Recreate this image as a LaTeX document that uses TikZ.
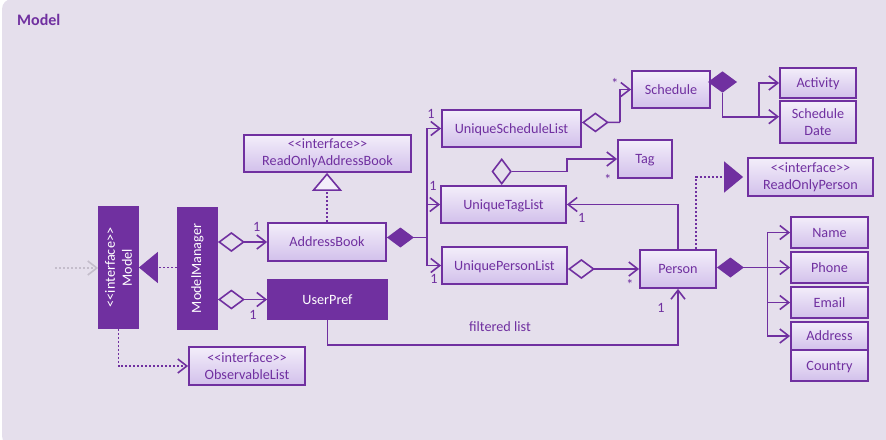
\documentclass[tikz,border=0pt]{standalone}
\usepackage{fontspec}
\setmainfont{Carlito}
\usetikzlibrary{arrows.meta,shapes.geometric}
\definecolor{pc}{HTML}{7030A0}
\definecolor{bgc}{HTML}{E5DFEC}
\definecolor{btop}{HTML}{F3EEFA}
\definecolor{bbot}{HTML}{D2C0EB}
\definecolor{gdot}{HTML}{C4BDCB}
\begin{document}
\begin{tikzpicture}[x=1pt,y=-1pt,
 font=\fontsize{14.2}{17}\selectfont,
 umlbox/.style={draw=pc, line width=1.8pt, top color=btop, bottom color=bbot, text=pc, inner sep=0pt, align=center},
 sline/.style={text height=9pt, text depth=0pt},
 darkbox/.style={draw=pc, fill=pc, line width=1.8pt, inner sep=0pt},
 whitetxt/.style={text=white, inner sep=0pt, align=center},
 lbl/.style={text=pc, inner sep=0pt},
 conn/.style={draw=pc, line width=1.6pt},
 dotline/.style={dash pattern=on 2pt off 2pt},
 arr/.style={conn, -{Straight Barb[length=9pt,width=14pt]}},
 aggarr/.style={conn, {Diamond[length=27pt,width=20pt,fill=bgc]}-{Straight Barb[length=9pt,width=14pt]}},
 aggline/.style={conn, {Diamond[length=27pt,width=20pt,fill=bgc]}-},
 compline/.style={conn, {Diamond[length=27pt,width=20pt,fill=pc]}-},
 realfill/.style={conn, dotline, -{Triangle[length=19pt,width=31pt,fill=pc]}},
 realopen/.style={conn, dotline, -{Triangle[length=18pt,width=30pt,fill=btop]}},
 deparr/.style={conn, dotline, -{Straight Barb[length=9pt,width=14pt]}},
 grayarr/.style={draw=gdot, line width=1.6pt, dotline, -{Straight Barb[length=9pt,width=14pt]}},
]
\useasboundingbox (0,0) rectangle (886,439);
\fill[bgc, rounded corners=10pt] (2,-1) rectangle (892,446);
\node[text=pc, font=\bfseries\fontsize{16}{19}\selectfont, anchor=base west, inner sep=0pt] (title) at (17,25) {Model};

% boxes
\node[umlbox, minimum width=167pt, minimum height=37pt] (roab) at (327.5,153.5) {<\kern0pt<interface>\kern0pt>\\ReadOnlyAddressBook};
\node[umlbox, sline, minimum width=118pt, minimum height=38pt] (ab) at (327,242) {AddressBook};
\node[darkbox, minimum width=39pt, minimum height=121pt] (model) at (118.5,267.5) {};
\node[whitetxt, rotate=90] (modeltxt) at (model.center) {<\kern0pt<interface>\kern0pt>\\Model};
\node[darkbox, minimum width=39pt, minimum height=121pt] (mm) at (197.5,268.5) {};
\node[whitetxt, rotate=90] (mmtxt) at (mm.center) {ModelManager};
\node[darkbox, minimum width=119pt, minimum height=39pt] (up) at (327.5,299.5) {};
\node[whitetxt, sline] (uptxt) at (up.center) {UserPref};
\node[umlbox, minimum width=116pt, minimum height=38pt] (ol) at (247,366) {<\kern0pt<interface>\kern0pt>\\ObservableList};
\node[umlbox, sline, minimum width=139pt, minimum height=37pt] (usl) at (511.5,128.5) {UniqueScheduleList};
\node[umlbox, sline, minimum width=78pt, minimum height=37pt] (sched) at (671,89.5) {Schedule};
\node[umlbox, sline, minimum width=76pt, minimum height=30pt] (act) at (818,83) {Activity};
\node[umlbox, minimum width=76pt, minimum height=42pt] (sd) at (818,122) {Schedule\\Date};
\node[umlbox, sline, minimum width=54pt, minimum height=38pt] (tag) at (645,159) {Tag};
\node[umlbox, sline, minimum width=125pt, minimum height=37pt] (utl) at (503.5,204.5) {UniqueTagList};
\node[umlbox, sline, minimum width=125pt, minimum height=37pt] (upl) at (504.5,265.5) {UniquePersonList};
\node[umlbox, sline, minimum width=76pt, minimum height=38pt] (person) at (678,269) {Person};
\node[umlbox, minimum width=125pt, minimum height=38pt] (ropi) at (810.5,177) {<\kern0pt<interface>\kern0pt>\\ReadOnlyPerson};
\node[umlbox, sline, minimum width=77pt, minimum height=31.5pt] (name) at (829.5,232.5) {Name};
\node[umlbox, sline, minimum width=77pt, minimum height=31.5pt] (phone) at (829.5,267.5) {Phone};
\node[umlbox, sline, minimum width=77pt, minimum height=31.5pt] (email) at (829.5,302.5) {Email};
\node[umlbox, sline, minimum width=77pt, minimum height=28.5pt] (addr) at (829.5,336) {Address};
\node[umlbox, sline, minimum width=77pt, minimum height=31pt] (country) at (829.5,365.5) {Country};

% separate diamonds
\node[diamond, draw=pc, fill=bgc, line width=1.6pt, inner sep=0pt, minimum width=19pt, minimum height=25pt] (tagdia) at (501.7,171.5) {};
\node[diamond, draw=pc, fill=pc, line width=1.6pt, inner sep=0pt, minimum width=27pt, minimum height=20pt] (schdia) at (722.5,82) {};

% connectors
\coordinate (g0) at (55,268);
\draw[grayarr] (g0) -- (g0 -| model.west);
\draw[realfill] (mm.west |- model.east) -- (model.east);
\draw[realopen] (ab.north) -- (ab.north |- roab.south);
\draw[aggarr] (mm.east |- ab.west) -- (ab.west);
\draw[aggarr] (mm.east |- up.west) -- (up.west);
\draw[deparr] (model.south) |- (ol.west);

\coordinate (j1) at (426.7,237.5);
\draw[compline] ([yshift=4.5pt]ab.east) -- (j1);
\draw[arr] (j1) |- (usl.west);
\draw[arr] (j1) |- (utl.west);
\draw[arr] (j1) |- (upl.west);

\coordinate (j2) at (620,122.3);
\draw[aggline] ([yshift=6pt]usl.east) -- (j2);
\draw[arr] (j2) |- (sched.west);

\coordinate (j6) at (566.7,171.5);
\draw[conn] (tagdia.east) -- (j6);
\draw[arr] (j6) |- (tag.west);

\draw[arr] (person.north) |- (utl.east);
\draw[realfill] ([xshift=18pt]person.north) |- ([xshift=-4pt]ropi.west);
\draw[aggarr] (upl.east |- person.west) -- (person.west);

\coordinate (j3) at (767.3,267.5);
\draw[compline] ([yshift=1.5pt]person.east) -- (j3);
\draw[arr] (j3) |- (name.west);
\draw[arr] (j3) |- (phone.west);
\draw[arr] (j3) |- (email.west);
\draw[arr] (j3) |- (addr.west);

\coordinate (j4) at (759,116.7);
\draw[conn] (schdia.south) |- (j4);
\draw[arr] (j4) -- (j4 -| sd.west);
\draw[arr] (j4) |- (act.west);

\draw[arr] (up.south) -- ++(0,25) -| (person.south);

% labels
\node[lbl] (l1) at (256.7,226.7) {1};
\node[lbl] (l2) at (253,315) {1};
\node[lbl] (l3) at (431,114) {1};
\node[lbl] (l4) at (433,186) {1};
\node[lbl] (l5) at (434,279) {1};
\node[lbl] (l6) at (615,83) {*};
\node[lbl] (l7) at (608,179) {*};
\node[lbl] (l8) at (581.7,218.3) {1};
\node[lbl] (l9) at (630,284) {*};
\node[lbl] (l10) at (661,308.3) {1};
\node[lbl] (fl) at (500,327) {filtered list};
\end{tikzpicture}
\end{document}
